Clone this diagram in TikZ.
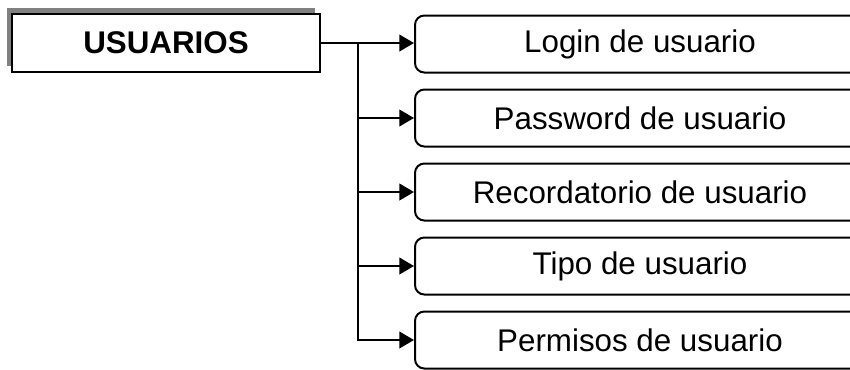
\documentclass[tikz,border=0pt]{standalone}
\usepackage{fontspec}
\setmainfont{Liberation Sans}
\usetikzlibrary{arrows.meta,positioning,shadows}

\begin{document}
\begin{tikzpicture}[x=0.75pt,y=-0.75pt,line width=1.5pt,node distance=11.25pt,
  every node/.style={font=\fontsize{23.5}{28}\selectfont},
  campo/.style={draw,fill=white,rounded corners=7pt,minimum width=337.5pt,minimum height=42.75pt,inner sep=0pt},
  flecha/.style={-{Triangle[length=11pt,width=12.5pt]}}]
\useasboundingbox (0,0) rectangle (850,369);
\node(U)[draw,fill=white,minimum width=231pt,minimum height=43.5pt,inner sep=0pt,
  general shadow={fill=gray,draw=none,shadow xshift=-3.75pt,shadow yshift=4.5pt},
  font=\fontsize{23.5}{28}\selectfont\bfseries] at (166,43){USUARIOS};
\node(L)[campo] at (640,44){Login de usuario};
\node(P)[campo,below=of L]{Password de usuario};
\node(R)[campo,below=of P]{Recordatorio de usuario};
\node(T)[campo,below=of R]{Tipo de usuario};
\node(M)[campo,below=of T]{Permisos de usuario};
\coordinate(J) at (358,43);
\draw[flecha](U.east)--(U.east -| L.west);
\foreach \n in {P,R,T} \draw[flecha](J |- \n)--(\n);
\draw[flecha](J)|-(M);
\end{tikzpicture}
\end{document}
